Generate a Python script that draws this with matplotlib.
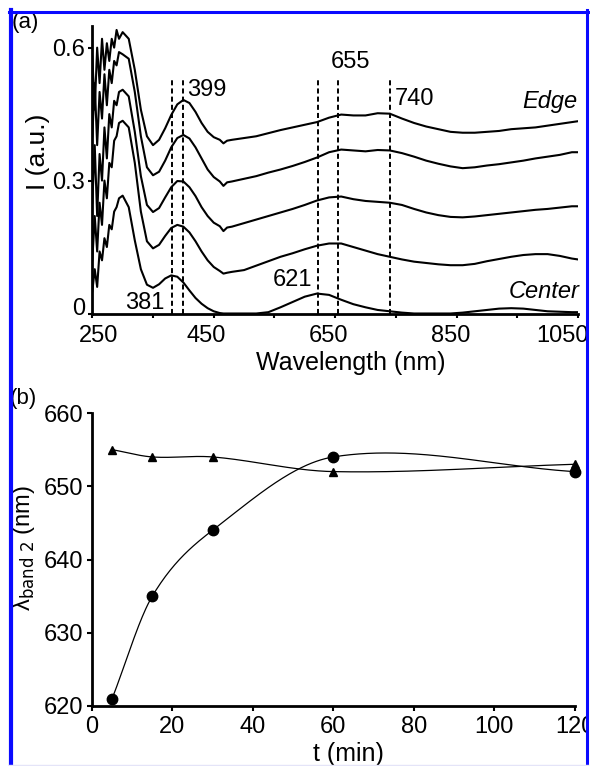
import numpy as np
import matplotlib
matplotlib.use("Agg")
import matplotlib.pyplot as plt
from matplotlib.lines import Line2D
from matplotlib.transforms import ScaledTranslation

plt.rcParams["font.family"] = ["Liberation Sans", "DejaVu Sans"]

# (a) extinction spectra, edge (top) to center (bottom)
wavelength = [250, 254, 258, 262, 266, 270, 274, 278, 282, 286, 290, 294,
              300, 310, 320, 330, 340, 350, 360, 370, 380, 390, 400, 410,
              420, 430, 440, 450, 460, 466, 472, 480,
              500, 520, 540, 560, 580, 600, 620, 640, 660, 680, 700, 720,
              740, 760, 780, 800, 820, 840, 860, 880, 900, 920, 940, 960,
              980, 1000, 1020, 1040, 1050]

spec_edge = [0.58, 0.46, 0.60, 0.52, 0.62, 0.55, 0.61, 0.57, 0.62, 0.60, 0.64, 0.62,
             0.635, 0.62, 0.55, 0.46, 0.40, 0.38, 0.392, 0.418, 0.448, 0.472, 0.482, 0.475,
             0.455, 0.43, 0.41, 0.398, 0.392, 0.384, 0.39, 0.392,
             0.396, 0.40, 0.407, 0.414, 0.42, 0.426, 0.432, 0.442, 0.449, 0.447, 0.447, 0.452,
             0.451, 0.44, 0.43, 0.422, 0.416, 0.41, 0.408, 0.408, 0.41, 0.412, 0.416, 0.418,
             0.42, 0.424, 0.428, 0.432, 0.434]

spec_2 = [0.40, 0.52, 0.38, 0.50, 0.44, 0.54, 0.47, 0.55, 0.52, 0.57, 0.56, 0.59,
          0.585, 0.575, 0.50, 0.40, 0.33, 0.312, 0.32, 0.345, 0.375, 0.396, 0.403, 0.395,
          0.375, 0.35, 0.325, 0.308, 0.298, 0.288, 0.296, 0.298,
          0.304, 0.31, 0.318, 0.325, 0.333, 0.342, 0.352, 0.364, 0.37, 0.368, 0.366, 0.369,
          0.368, 0.362, 0.354, 0.345, 0.338, 0.332, 0.328, 0.33, 0.334, 0.337, 0.341, 0.345,
          0.35, 0.354, 0.358, 0.364, 0.364]

spec_3 = [0.25, 0.38, 0.22, 0.36, 0.30, 0.42, 0.35, 0.45, 0.42, 0.48, 0.47, 0.50,
          0.505, 0.49, 0.41, 0.31, 0.245, 0.229, 0.238, 0.262, 0.285, 0.299, 0.298, 0.285,
          0.265, 0.24, 0.22, 0.205, 0.197, 0.186, 0.194, 0.196,
          0.204, 0.212, 0.22, 0.228, 0.236, 0.245, 0.255, 0.262, 0.264, 0.258, 0.254, 0.252,
          0.25, 0.245, 0.236, 0.228, 0.222, 0.218, 0.217, 0.219, 0.222, 0.225, 0.228, 0.231,
          0.234, 0.236, 0.239, 0.242, 0.242]

spec_4 = [0.12, 0.22, 0.14, 0.25, 0.20, 0.30, 0.26, 0.34, 0.33, 0.39, 0.40, 0.43,
          0.435, 0.42, 0.34, 0.23, 0.163, 0.147, 0.155, 0.175, 0.193, 0.20, 0.196, 0.183,
          0.163, 0.14, 0.12, 0.105, 0.096, 0.09, 0.092, 0.094,
          0.098, 0.108, 0.118, 0.128, 0.136, 0.145, 0.153, 0.158, 0.158, 0.15, 0.142, 0.134,
          0.128, 0.122, 0.117, 0.114, 0.111, 0.109, 0.109, 0.112, 0.118, 0.123, 0.128, 0.132,
          0.134, 0.134, 0.13, 0.124, 0.122]

spec_center = [0.05, 0.10, 0.06, 0.14, 0.12, 0.17, 0.15, 0.20, 0.19, 0.23, 0.24, 0.26,
               0.266, 0.24, 0.165, 0.10, 0.065, 0.058, 0.066, 0.079, 0.086, 0.083, 0.07, 0.052,
               0.035, 0.022, 0.012, 0.005, 0.001, 0.0, 0.0, 0.0,
               0.0, 0.0, 0.003, 0.014, 0.026, 0.038, 0.045, 0.042, 0.031, 0.021, 0.014, 0.008,
               0.005, 0.002, 0.0, 0.0, 0.0, 0.0, 0.002, 0.005, 0.008, 0.011, 0.012, 0.011,
               0.008, 0.005, 0.004, 0.003, 0.003]

band_nm = [381, 399, 621, 655, 740]

# (b) band 2 position vs time
time_min = [5, 15, 30, 60, 120]
band2_circle = [621, 635, 644, 654, 652]
band2_triangle = [655, 654, 654, 652, 653]

W, H = 590, 766


def smooth_curve(x, y, xs):
    # cubic Hermite through the points, Catmull-Rom style tangents
    x = np.asarray(x, float)
    y = np.asarray(y, float)
    n = len(x)
    m = np.empty(n)
    m[0] = (y[1] - y[0]) / (x[1] - x[0])
    m[-1] = (y[-1] - y[-2]) / (x[-1] - x[-2])
    m[1:-1] = (y[2:] - y[:-2]) / (x[2:] - x[:-2])
    idx = np.clip(np.searchsorted(x, xs) - 1, 0, n - 2)
    h = x[idx + 1] - x[idx]
    s = (xs - x[idx]) / h
    h00 = 2 * s ** 3 - 3 * s ** 2 + 1
    h10 = s ** 3 - 2 * s ** 2 + s
    h01 = -2 * s ** 3 + 3 * s ** 2
    h11 = s ** 3 - s ** 2
    return h00 * y[idx] + h10 * h * m[idx] + h01 * y[idx + 1] + h11 * h * m[idx + 1]


def shift(label, dx, dy):
    label.set_transform(label.get_transform() +
                        ScaledTranslation(dx / 100, dy / 100, fig.dpi_scale_trans))


fig = plt.figure(figsize=(5.9, 7.66), dpi=100)

# ---- panel (a)
ax1 = fig.add_axes([92.3 / W, 452.5 / H, 485.7 / W, 288 / H])
for s in [spec_edge, spec_2, spec_3, spec_4, spec_center]:
    ax1.plot(wavelength, s, color="black", lw=1.5, solid_joinstyle="round")
for b in band_nm:
    ax1.plot([b, b], [0, 0.53], color="black", lw=1.4, dashes=(2.6, 1.6))

ax1.set_xlim(250, 1050)
ax1.set_ylim(0, 0.65)
ax1.set_xticks([250, 450, 650, 850, 1050])
ax1.set_xticks([350, 550, 750, 950], minor=True)
ax1.set_yticks([0, 0.3, 0.6])
ax1.set_yticklabels(["0", "0.3", "0.6"])
for side in ["top", "right"]:
    ax1.spines[side].set_visible(False)
for side in ["left", "bottom"]:
    ax1.spines[side].set_linewidth(2)
ax1.tick_params(axis="x", which="both", direction="out", length=3, width=1.5,
                labelsize=17, pad=5)
ax1.tick_params(axis="y", direction="out", length=3, width=1.5, labelsize=17, pad=2)
for lab, dx in zip(ax1.get_xticklabels(), [6, -8, -7, -6, -16]):
    shift(lab, dx, 0)
shift(ax1.get_yticklabels()[0], 0, 7)

ax1.text(-0.112, 0.561, "I (a.u.)", rotation=90, transform=ax1.transAxes,
         ha="center", va="center", fontsize=19)
ax1.text(0.533, -0.196, "Wavelength (nm)", transform=ax1.transAxes,
         ha="center", va="baseline", fontsize=18)

ax1.text(369.5, 0.024, "381", ha="right", va="center", fontsize=17)
ax1.text(406, 0.505, "399", ha="left", va="center", fontsize=17)
ax1.text(613, 0.0756, "621", ha="right", va="center", fontsize=17)
ax1.text(675.8, 0.568, "655", ha="center", va="center", fontsize=17)
ax1.text(748, 0.484, "740", ha="left", va="center", fontsize=17)
ax1.text(1049, 0.479, "Edge", ha="right", va="center", fontsize=17, style="italic")
ax1.text(1052, 0.05, "Center", ha="right", va="center", fontsize=17, style="italic")

# ---- panel (b)
ax2 = fig.add_axes([92 / W, 60 / H, 482.5 / W, 293 / H])
ts = np.linspace(min(time_min), max(time_min), 400)
ax2.plot(ts, smooth_curve(time_min, band2_triangle, ts), color="black", lw=0.9)
ax2.plot(ts, smooth_curve(time_min, band2_circle, ts), color="black", lw=0.9)
ax2.plot(time_min, band2_circle, "o", color="black", ms=7.5, clip_on=False)
ax2.plot(time_min, band2_triangle, "^", color="black", ms=6, clip_on=False)

ax2.set_xlim(0, 120)
ax2.set_ylim(620, 660)
ax2.set_xticks(range(0, 121, 20))
ax2.set_yticks(range(620, 661, 10))
for side in ["top", "right"]:
    ax2.spines[side].set_visible(False)
for side in ["left", "bottom"]:
    ax2.spines[side].set_linewidth(2)
ax2.tick_params(axis="x", direction="out", length=3.5, width=1.5, labelsize=17, pad=4)
ax2.tick_params(axis="y", direction="out", length=3.5, width=1.5, labelsize=17, pad=3)

ax2.text(-0.141, 0.539, "λ$_{\\mathrm{band\\ 2}}$ (nm)", rotation=90,
         transform=ax2.transAxes, ha="center", va="center", fontsize=17)
ax2.text(0.5306, -0.188, "t (min)", transform=ax2.transAxes,
         ha="center", va="baseline", fontsize=18)

# panel tags
fig.text(12 / W, 1 - 12 / H, "(a)", ha="left", va="top", fontsize=16)
fig.text(10 / W, 1 - 388 / H, "(b)", ha="left", va="top", fontsize=16)

# blue frame round the figure
blue = "#0a0aff"
fig.add_artist(plt.Rectangle((588 / W, 0), 2 / W, 1, transform=fig.transFigure,
                             color="white", zorder=9))
fig.add_artist(Line2D([10.5 / W, 10.5 / W], [0, 1 - 10 / H], transform=fig.transFigure,
                      color=blue, lw=3, zorder=10))
fig.add_artist(Line2D([9 / W, 588 / W], [1 - 11.5 / H, 1 - 11.5 / H],
                      transform=fig.transFigure, color=blue, lw=2.2, zorder=10))
fig.add_artist(Line2D([586.5 / W, 586.5 / W], [0, 1 - 10 / H], transform=fig.transFigure,
                      color=blue, lw=2.2, zorder=10))
fig.add_artist(Line2D([9 / W, 588 / W], [1.5 / H, 1.5 / H], transform=fig.transFigure,
                      color="#e4e4f8", lw=1, zorder=10))

fig.savefig("out.png", dpi=100)
